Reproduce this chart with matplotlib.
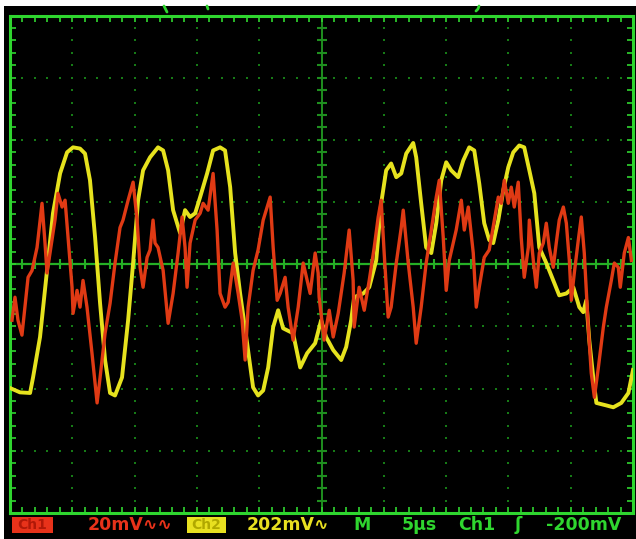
import matplotlib
matplotlib.use("Agg")
import matplotlib.pyplot as plt
from matplotlib.patches import Rectangle
from matplotlib.lines import Line2D
import numpy as np

# ---- data (time in microseconds, amplitude in screen divisions) ----
ch2_t = [0.00, 0.80, 1.61, 1.85, 2.41, 2.97, 3.45, 4.02, 4.58, 5.06, 5.62, 6.02, 6.42, 6.83, 7.23,
         7.63, 8.03, 8.43, 8.99, 9.48, 9.88, 10.28, 10.68, 11.24, 11.88, 12.29, 12.69, 13.09, 13.65,
         14.05, 14.45, 14.86, 15.26, 15.82, 16.30, 16.86, 17.26, 17.67, 18.07, 18.47, 19.03, 19.51,
         19.91, 20.32, 20.72, 21.12, 21.52, 21.92, 22.72, 23.29, 23.85, 24.49, 24.97, 25.37, 25.94,
         26.58, 26.98, 27.38, 27.62, 28.35, 28.83, 29.39, 29.79, 30.19, 30.59, 31.00, 31.40, 31.80,
         32.36, 32.60, 33.00, 33.40, 33.81, 34.21, 34.61, 35.01, 35.41, 35.97, 36.38, 36.86, 37.26,
         37.66, 38.06, 38.46, 38.78, 39.19, 39.59, 39.99, 40.39, 40.87, 41.27, 41.68, 42.08, 42.48,
         43.04, 43.60, 44.08, 44.65, 45.21, 45.69, 46.01, 46.25, 46.49, 46.81, 47.06, 47.86, 48.42,
         49.06, 49.63, 50.00]
ch2_div = [-1.99, -2.06, -2.07, -1.82, -1.17, -0.10, 0.82, 1.46, 1.80, 1.88, 1.86, 1.78, 1.35, 0.43, -0.63,
           -1.54, -2.07, -2.11, -1.82, -0.90, 0.02, 1.03, 1.51, 1.72, 1.88, 1.83, 1.51, 0.87, 0.50,
           0.87, 0.76, 0.82, 1.08, 1.46, 1.83, 1.88, 1.83, 1.24, 0.18, -0.47, -1.27, -1.98,
           -2.11, -2.03, -1.66, -1.01, -0.74, -1.03, -1.11, -1.66, -1.43, -1.27, -0.90, -1.17, -1.38,
           -1.54, -1.33, -0.90, -0.53, -0.47, -0.37, 0.06, 0.98, 1.51, 1.62, 1.40, 1.46, 1.78,
           1.95, 1.72, 0.98, 0.27, 0.18, 0.66, 1.35, 1.64, 1.51, 1.40, 1.67, 1.88, 1.83,
           1.30, 0.66, 0.39, 0.34, 0.71, 1.19, 1.56, 1.80, 1.91, 1.88, 1.51, 1.14, 0.27,
           0.02, -0.26, -0.50, -0.47, -0.37, -0.69, -0.77, -0.58, -1.22, -1.82, -2.23, -2.27, -2.30,
           -2.23, -2.07, -1.70]

ch1_t = [0.16, 0.40, 0.64, 0.96, 1.20, 1.45, 1.77, 2.17, 2.57, 2.81, 2.97, 3.21, 3.61, 3.85, 4.18,
         4.42, 4.66, 4.98, 5.06, 5.38, 5.62, 5.86, 6.18, 6.58, 6.99, 7.23, 7.63, 8.03, 8.43, 8.83,
         9.07, 9.48, 9.88, 10.20, 10.44, 10.68, 11.00, 11.24, 11.48, 11.64, 11.88, 12.29, 12.69, 13.09,
         13.49, 13.81, 14.05, 14.21, 14.45, 14.86, 15.26, 15.50, 15.90, 16.30, 16.62, 16.86, 17.26,
         17.51, 17.91, 18.31, 18.63, 18.87, 19.11, 19.51, 19.91, 20.32, 20.64, 20.88, 21.12, 21.44,
         21.68, 22.08, 22.32, 22.72, 23.13, 23.53, 23.85, 24.09, 24.49, 24.73, 24.81, 25.21, 25.62,
         25.94, 26.34, 26.82, 27.22, 27.54, 27.62, 28.02, 28.43, 28.83, 29.23, 29.55, 29.79, 30.03,
         30.35, 30.59, 31.00, 31.40, 31.56, 31.96, 32.36, 32.60, 33.00, 33.40, 33.81, 34.21, 34.45,
         34.77, 35.01, 35.25, 35.81, 36.22, 36.46, 36.78, 37.18, 37.42, 37.66, 38.06, 38.46, 38.87,
         39.19, 39.43, 39.67, 39.99, 40.23, 40.47, 40.79, 41.03, 41.27, 41.60, 41.68, 42.00, 42.24,
         42.48, 42.80, 43.04, 43.28, 43.60, 43.84, 44.08, 44.41, 44.65, 44.89, 45.05, 45.29, 45.61,
         45.85, 46.09, 46.41, 46.65, 46.90, 47.22, 47.62, 47.86, 48.26, 48.50, 48.82, 48.98, 49.30,
         49.63, 49.87]
ch1_div = [-0.90, -0.53, -0.90, -1.14, -0.69, -0.21, -0.10, 0.27, 0.98, 0.34, -0.14, 0.18, 0.71, 1.14, 0.92,
           1.03, 0.43, -0.37, -0.79, -0.42, -0.69, -0.26, -0.69, -1.43, -2.23, -1.82, -1.11, -0.63, 0.02, 0.59,
           0.71, 1.03, 1.32, 0.71, -0.05, -0.37, 0.11, 0.23, 0.71, 0.34, 0.27, -0.10, -0.95, -0.47,
           0.18, 0.76, 0.27, -0.37, 0.34, 0.71, 0.82, 0.98, 0.87, 1.46, 0.55, -0.47, -0.69,
           -0.61, 0.02, -0.47, -0.90, -1.54, -0.69, -0.10, 0.23, 0.71, 0.92, 1.08, 0.27, -0.58,
           -0.47, -0.21, -0.69, -1.22, -0.69, 0.02, -0.26, -0.47, 0.18, -0.14, -0.53, -1.22, -0.74,
           -1.17, -0.79, -0.14, 0.55, -0.26, -1.01, -0.37, -0.74, -0.26, 0.27, 0.76, 1.03, 0.18,
           -0.85, -0.69, 0.02, 0.59, 0.87, 0.02, -0.69, -1.27, -0.69, 0.02, 0.55, 1.08, 1.35,
           0.43, -0.42, 0.06, 0.55, 1.03, 0.55, 0.92, 0.18, -0.69, -0.37, 0.11, 0.23, 0.71,
           1.08, 0.98, 1.35, 0.98, 1.24, 0.92, 1.32, 0.43, -0.21, 0.27, 0.71, 0.06, -0.37,
           0.18, 0.34, 0.66, 0.27, -0.05, 0.34, 0.71, 0.92, 0.66, 0.06, -0.58, -0.14, 0.39,
           0.76, 0.18, -1.01, -1.75, -2.14, -1.66, -1.01, -0.69, -0.26, 0.02, -0.05, -0.37, 0.18,
           0.43, 0.06]

status_labels = ["20mV\u223f\u223f", "202mV\u223f", "M", "5\u00b5s", "Ch1", "\u0283", "-200mV"]

# ---- figure ----
W, H = 636, 539
fig = plt.figure(figsize=(W / 100, H / 100), dpi=100, facecolor="white")

def fx(px):
    return px / W

def fy(py):
    return 1 - py / H

# black screen
fig.add_artist(Rectangle((fx(4), 0), 1 - fx(4), fy(6), transform=fig.transFigure,
                         facecolor="black", edgecolor="none", zorder=0))

GREEN = "#2fd62f"
DIM = "#1f8f1f"
DOT = "#167a16"

ax = fig.add_axes([fx(10), fy(513), fx(633) - fx(10), fy(15.5) - fy(513)])
ax.set_facecolor("black")
ax.set_xlim(0, 50)
ax.set_ylim(-4, 4)
for s in ax.spines.values():
    s.set_color(GREEN)
    s.set_linewidth(2.2)
ax.set_xticks(np.arange(1, 50, 1))
ax.set_yticks(np.arange(-3.8, 4.0, 0.2))
ax.tick_params(direction="in", length=4, width=1.2, color=GREEN,
               top=True, right=True, labelbottom=False, labelleft=False)

# dotted graticule
xs_fine = np.arange(0, 50.01, 1.0)
ys_fine = np.arange(-4, 4.01, 0.2)
for xv in [5, 10, 15, 20, 30, 35, 40, 45]:
    ax.plot(np.full_like(ys_fine, xv), ys_fine, ls="none", marker="s", ms=2.0, color=DOT, mew=0)
for yv in [-3, -2, -1, 1, 2, 3]:
    ax.plot(xs_fine, np.full_like(xs_fine, yv), ls="none", marker="s", ms=2.0, color=DOT, mew=0)

# centre cross
ax.axhline(0, color="#25b025", lw=1.6, zorder=1)
ax.axvline(25, color=DIM, lw=1.4, zorder=1)
ax.plot(xs_fine, np.zeros_like(xs_fine), ls="none", marker="|", ms=7, mew=1.5, color="#25b025")
ax.plot(np.full_like(ys_fine, 25), ys_fine, ls="none", marker="_", ms=7, mew=1.5, color=DIM)

# traces
ax.plot(ch2_t, ch2_div, color="#e6e21e", lw=2.8, solid_joinstyle="round", zorder=3)
ax.plot(ch1_t, ch1_div, color="#e03a14", lw=2.4, solid_joinstyle="round", zorder=4)

# status line
fig.add_artist(Rectangle((fx(12), fy(533)), fx(53) - fx(12), fy(517) - fy(533),
                         transform=fig.transFigure, facecolor="#e8321a", edgecolor="none"))
fig.text(fx(32.5), fy(525), "Ch1", color="#b01808", fontsize=10, fontweight="bold",
         ha="center", va="center")
fig.add_artist(Rectangle((fx(187), fy(533)), fx(226) - fx(187), fy(517) - fy(533),
                         transform=fig.transFigure, facecolor="#e8e020", edgecolor="none"))
fig.text(fx(206.5), fy(525), "Ch2", color="#b0a800", fontsize=10, fontweight="bold",
         ha="center", va="center")

label_x = [88, 247, 353, 402, 458, 515, 546]
label_c = ["#e8321a", "#e8e020", GREEN, GREEN, GREEN, GREEN, GREEN]
for lx, lab, c in zip(label_x, status_labels, label_c):
    fig.text(fx(lx), fy(525), lab, color=c, fontsize=12.5, fontweight="bold",
             ha="left", va="center", family="DejaVu Sans")

# partially visible marks at the top edge of the screen
for xs, ys in [([164, 166, 167], [6, 10, 12]), ([207, 208], [6, 9]), ([479, 478, 476], [6, 9, 11])]:
    fig.add_artist(Line2D([fx(v) for v in xs], [fy(v) for v in ys], transform=fig.transFigure,
                          color=GREEN, lw=2, solid_capstyle="round"))

fig.savefig("out.png", dpi=100, facecolor="white")
